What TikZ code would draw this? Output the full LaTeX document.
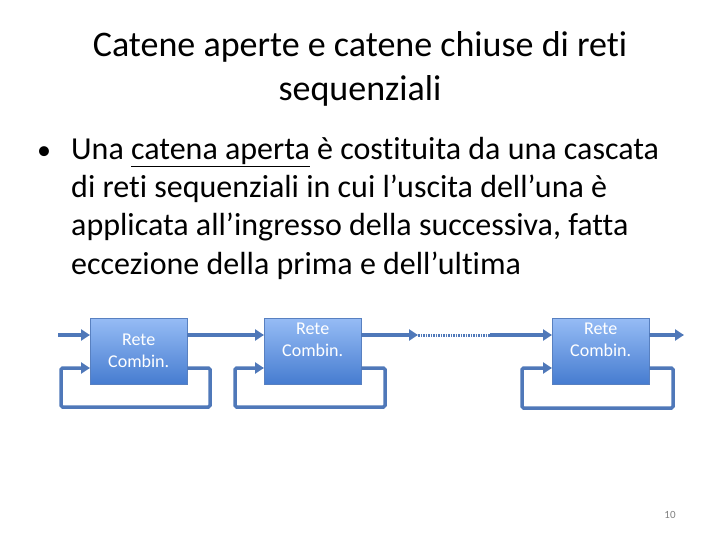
\documentclass[tikz,border=0pt]{standalone}
\usepackage{fontspec}
\setmainfont[Ligatures=NoCommon]{Carlito}
\usetikzlibrary{arrows.meta,positioning}
\definecolor{linkblue}{RGB}{79,120,185}
\definecolor{boxtop}{RGB}{150,188,245}
\definecolor{boxbot}{RGB}{70,124,208}
\definecolor{boxedge}{RGB}{88,128,192}
\tikzset{
  combbox/.style={draw=boxedge, top color=boxtop, bottom color=boxbot,
    minimum width=97pt, minimum height=66pt, inner sep=0pt, anchor=north west},
  combtext/.style={text=white, font=\fontsize{18}{22}\selectfont, align=center, inner sep=1pt},
  wire/.style={draw=linkblue, line width=3.5pt, rounded corners=1.5pt,
    -{Triangle[length=9pt,width=11pt]}},
  dotwire/.style={draw=linkblue, line width=3pt, dash pattern=on 1.5pt off 1pt},
  titleline/.style={font=\fontsize{36}{44}\selectfont, anchor=base},
  bodyline/.style={font=\fontsize{32}{38}\selectfont, anchor=base west, inner sep=0pt}
}
\begin{document}
\begin{tikzpicture}[x=1pt,y=-1pt]
    \useasboundingbox (0,0) rectangle (720,540);

    % Title
    \node[titleline] (title1) at (360,57) {Catene aperte e catene chiuse di reti};
    \node[titleline] (title2) at (360,101) {sequenziali};

    % Bullet text
    \node[bodyline, font=\fontsize{28}{38}\selectfont] (dot) at (37,160) {•};
    \node[bodyline] (line1) at (71,160) {Una \underline{catena aperta} è costituita da una cascata};
    \node[bodyline] (line2) at (71,198) {di reti sequenziali in cui l’uscita dell’una è};
    \node[bodyline] (line3) at (71,236) {applicata all’ingresso della successiva, fatta};
    \node[bodyline] (line4) at (71,274) {eccezione della prima e dell’ultima};

    % Networks
    \node[combbox] (net1) at (90,318) {};
    \node[combbox] (net2) at (264,318) {};
    \node[combbox] (net3) at (552,318) {};
    \node[combtext] (lbl1) at (net1.center) {Rete\\Combin.};
    \node[combtext, below=4pt of net2.north] (lbl2) {Rete\\Combin.};
    \node[combtext, below=4pt of net3.north] (lbl3) {Rete\\Combin.};

    % Forward chain
    \coordinate (in1) at (58,335);
    \coordinate (gap1) at (418,335);
    \coordinate (gap2) at (490,335);
    \coordinate (out3) at (684,335);
    \draw[wire] (in1) -- (net1.west |- in1);
    \draw[wire] (net1.east |- in1) -- (net2.west |- in1);
    \draw[wire] (net2.east |- in1) -- (gap1);
    \draw[dotwire] (gap1) -- (gap2);
    \draw[wire] (gap2) -- (net3.west |- gap2);
    \draw[wire] (net3.east |- out3) -- (out3);

    % Feedback loops
    \draw[wire] (net1.east |- 0,368) -- (210,368) -- (210,407) -- (61,407) -- (61,368) -- (net1.west |- 0,368);
    \draw[wire] (net2.east |- 0,368) -- (385,368) -- (385,407) -- (235,407) -- (235,368) -- (net2.west |- 0,368);
    \draw[wire] (net3.east |- 0,368) -- (673,368) -- (673,408) -- (522,408) -- (522,368) -- (net3.west |- 0,368);

    % Page number
    \node[font=\fontsize{11}{13}\selectfont, text=gray] (page) at (670,515) {10};
\end{tikzpicture}
\end{document}
